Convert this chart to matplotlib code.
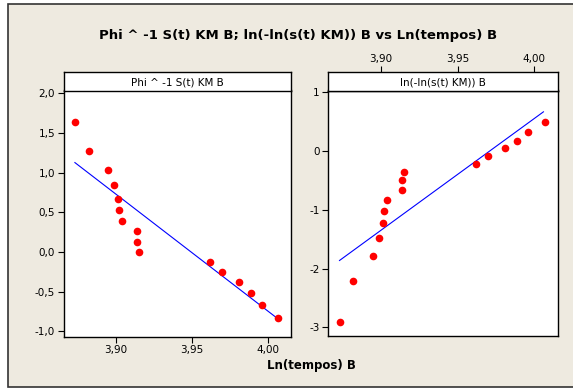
import matplotlib.pyplot as plt
from matplotlib.patches import Rectangle
from matplotlib.ticker import FuncFormatter

# Ln(tempos) B e as duas transformacoes de S(t) KM
ln_tempos = [3.873, 3.882, 3.895, 3.899, 3.9015, 3.902, 3.904, 3.914,
             3.914, 3.915, 3.962, 3.970, 3.981, 3.989, 3.996, 4.007]
phi_inv = [1.639, 1.275, 1.040, 0.847, 0.675, 0.528, 0.394, 0.260,
           0.122, -0.004, -0.126, -0.256, -0.377, -0.516, -0.667, -0.834]
ln_ln = [-2.917, -2.205, -1.795, -1.476, -1.219, -1.014, -0.832, -0.667,
         -0.501, -0.359, -0.217, -0.080, 0.046, 0.177, 0.325, 0.490]

# retas ajustadas (extremos)
reta_x = [3.873, 4.006]
reta_phi = [1.128, -0.830]
reta_ln = [-1.863, 0.667]

titulo = "Phi ^ -1 S(t) KM B; ln(-ln(s(t) KM)) B vs Ln(tempos) B"
paineis = ["Phi ^ -1 S(t) KM B", "ln(-ln(s(t) KM)) B"]
xticks = [3.90, 3.95, 4.00]
yticks_phi = [-1.0, -0.5, 0.0, 0.5, 1.0, 1.5, 2.0]
yticks_ln = [-3, -2, -1, 0, 1]

W, H = 573, 389
fundo = '#EEEAE0'

fig = plt.figure(figsize=(W / 100, H / 100), dpi=100)
fig.patch.set_facecolor('white')
fig.patches.append(Rectangle((8 / W, 1 - 387 / H), 1, (387 - 4) / H,
                             transform=fig.transFigure, facecolor=fundo,
                             edgecolor='#333333', linewidth=1.2, zorder=-10))


def caixa(x0, y0, x1, y1):
    return [x0 / W, 1 - y1 / H, (x1 - x0) / W, (y1 - y0) / H]


virgula = FuncFormatter(lambda v, p: f'{v:.2f}'.replace('.', ','))
virgula1 = FuncFormatter(lambda v, p: f'{v:.1f}'.replace('.', ','))
inteiro = FuncFormatter(lambda v, p: f'{int(round(v))}')

xlim = (3.8655, 4.0153)
tick_kw = dict(labelsize=7.5, length=4, width=0.8, pad=2, colors='black')

# painel esquerdo
ax1 = fig.add_axes(caixa(63.5, 90.5, 291, 336.5))
ax1.plot(reta_x, reta_phi, color='#0000FF', lw=0.8)
ax1.plot(ln_tempos, phi_inv, 'o', color='#FF0000', ms=5.5, mec='none')
ax1.set_xlim(xlim)
ax1.set_ylim(-1.063, 2.036)
ax1.set_xticks(xticks)
ax1.set_yticks(yticks_phi)
ax1.xaxis.set_major_formatter(virgula)
ax1.yaxis.set_major_formatter(virgula1)
ax1.tick_params(**tick_kw)

# painel direito
ax2 = fig.add_axes(caixa(328, 90.5, 557.7, 336))
ax2.plot(reta_x, reta_ln, color='#0000FF', lw=0.8)
ax2.plot(ln_tempos, ln_ln, 'o', color='#FF0000', ms=5.5, mec='none')
ax2.set_xlim(xlim)
ax2.set_ylim(-3.148, 1.03)
ax2.set_xticks([])
ax2.set_yticks(yticks_ln)
ax2.yaxis.set_major_formatter(inteiro)
ax2.tick_params(**tick_kw)

for ax in (ax1, ax2):
    ax.set_facecolor('white')
    for s in ax.spines.values():
        s.set_linewidth(1.0)

# faixas com o nome de cada painel
for (x0, x1), nome, ax in zip([(63.5, 291), (328, 557.7)], paineis, (ax1, ax2)):
    faixa = fig.add_axes(caixa(x0, 72, x1, 90.5))
    faixa.set_facecolor('white')
    faixa.set_xlim(xlim)
    faixa.set_ylim(0, 1)
    faixa.set_yticks([])
    for s in faixa.spines.values():
        s.set_linewidth(1.0)
    faixa.text(0.5, 0.45, nome, transform=faixa.transAxes, ha='center',
               va='center', fontsize=7.5)
    if ax is ax2:
        faixa.set_xticks(xticks)
        faixa.xaxis.set_major_formatter(virgula)
        faixa.xaxis.tick_top()
        faixa.tick_params(**tick_kw)
    else:
        faixa.set_xticks([])

fig.text(298 / W, 1 - 35 / H, titulo, ha='center', va='center',
         fontsize=9.5, fontweight='bold')
fig.text(311 / W, 1 - 366 / H, 'Ln(tempos) B', ha='center', va='center',
         fontsize=8.5, fontweight='bold')

fig.savefig('out.png', dpi=100, facecolor=fig.get_facecolor())
